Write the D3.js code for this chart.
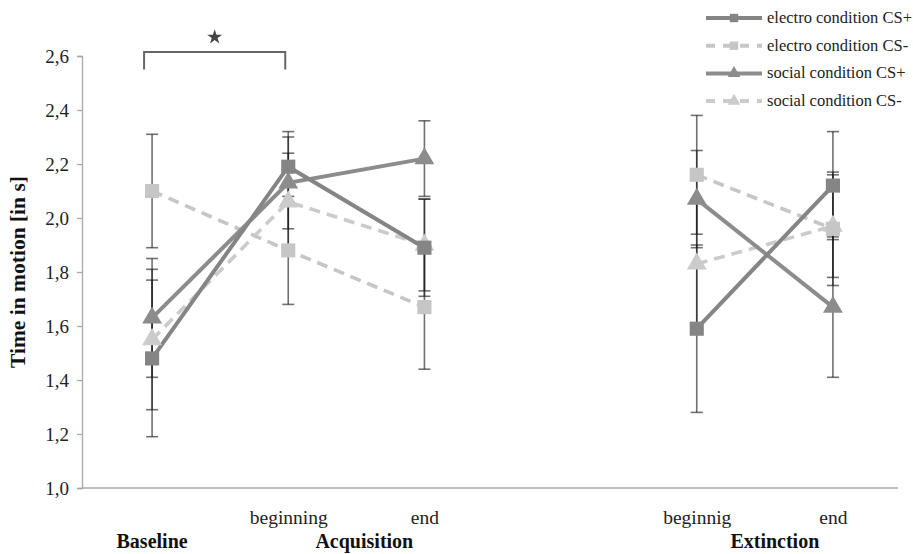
<!DOCTYPE html>
<html>
<head>
<meta charset="utf-8">
<script src="https://cdn.jsdelivr.net/npm/d3@7/dist/d3.min.js"></script>
<style>
  html, body { margin: 0; padding: 0; background: #fff; }
  svg { display: block; }
</style>
</head>
<body>
<svg id="chart" width="913" height="554"></svg>
<script>
// Measurement slots along the x axis; the empty slot separates acquisition from extinction
const slots = ["baseline", "acq-begin", "acq-end", "", "ext-begin", "ext-end"];
const measured = ["baseline", "acq-begin", "acq-end", "ext-begin", "ext-end"];
// Points joined by one line: baseline through acquisition, then extinction
const segments = [[0, 1, 2], [3, 4]];
const tickLabels = ["", "beginning", "end", "", "beginnig", "end"];
const phaseLabels = ["Baseline", "Acquisition", "Extinction"];
const yTicks = [1.0, 1.2, 1.4, 1.6, 1.8, 2.0, 2.2, 2.4, 2.6];

// Mean time in motion (s) and error half-widths per measurement slot
const electroCSplus     = [1.48, 2.19, 1.89, 1.59, 2.12];
const electroCSplusErr  = [0.29, 0.13, 0.18, 0.31, 0.20];
const electroCSminus    = [2.10, 1.88, 1.67, 2.16, 1.96];
const electroCSminusErr = [0.21, 0.20, 0.23, 0.22, 0.21];
const socialCSplus      = [1.63, 2.13, 2.22, 2.07, 1.67];
const socialCSplusErr   = [0.22, 0.17, 0.14, 0.18, 0.26];
const socialCSminus     = [1.55, 2.06, 1.90, 1.83, 1.97];
const socialCSminusErr  = [0.26, 0.18, 0.17, 0.24, 0.19];

const seriesNames = ["electro condition CS+", "electro condition CS-", "social condition CS+", "social condition CS-"];

// Significant comparison: baseline vs. beginning of acquisition
const sigFrom = "baseline", sigTo = "acq-begin", sigLevel = 2.615, sigDrop = 2.55, sigStarLevel = 2.67;

const series = [
  { name: seriesNames[3], values: socialCSminus,  err: socialCSminusErr,  color: "#cbcbcb", dashed: true,  shape: d3.symbolTriangle },
  { name: seriesNames[1], values: electroCSminus, err: electroCSminusErr, color: "#c6c6c6", dashed: true,  shape: d3.symbolSquare },
  { name: seriesNames[2], values: socialCSplus,   err: socialCSplusErr,   color: "#8c8c8c", dashed: false, shape: d3.symbolTriangle },
  { name: seriesNames[0], values: electroCSplus,  err: electroCSplusErr,  color: "#858585", dashed: false, shape: d3.symbolSquare }
];
const legendOrder = [3, 1, 2, 0];

const serif = "Liberation Serif";
const svg = d3.select("#chart");

const x = d3.scalePoint().domain(slots).range([84, 901]).padding(0.5);
const y = d3.scaleLinear().domain([1.0, 2.6]).range([488, 56]);
const axisLeftX = 82, axisRightX = 898;

// y axis
const yAxis = d3.axisLeft(y)
  .tickValues(yTicks)
  .tickSize(5)
  .tickPadding(8)
  .tickFormat(d => d3.format(".1f")(d).replace(".", ","));
const gy = svg.append("g").attr("transform", `translate(${axisLeftX},0)`).call(yAxis);
gy.attr("font-family", null).attr("font-size", null);
gy.select(".domain").attr("stroke", "#a8a8a8").attr("stroke-width", 1.3);
gy.selectAll(".tick line").attr("stroke", "#a8a8a8").attr("stroke-width", 1.3);
gy.selectAll(".tick text").attr("fill", "#222")
  .attr("font-family", serif).attr("font-size", 19);

// x axis line and slot labels
svg.append("line")
  .attr("x1", axisLeftX).attr("x2", axisRightX)
  .attr("y1", y(1.0)).attr("y2", y(1.0))
  .attr("stroke", "#a8a8a8").attr("stroke-width", 1.3);

const xAxis = d3.axisBottom(x).tickSize(0).tickPadding(22).tickFormat((d, i) => tickLabels[i]);
const gx = svg.append("g").attr("transform", `translate(0,${y(1.0)})`).call(xAxis);
gx.attr("font-family", null).attr("font-size", null);
gx.select(".domain").remove();
gx.selectAll(".tick text").attr("fill", "#222")
  .attr("font-family", serif).attr("font-size", 19.5);

// Phase labels
const phaseX = [
  x("baseline"),
  (x("acq-begin") + x("acq-end")) / 2 + 8,
  (x("ext-begin") + x("ext-end")) / 2 + 10
];
svg.selectAll("text.phase").data(phaseLabels).join("text")
  .attr("class", "phase")
  .attr("x", (d, i) => phaseX[i]).attr("y", 548)
  .attr("text-anchor", "middle")
  .attr("font-family", serif)
  .attr("font-weight", "bold").attr("font-size", 20).attr("fill", "#111")
  .text(d => d);

// y axis title
svg.append("text")
  .attr("transform", `translate(25,${y(1.8)}) rotate(-90)`)
  .attr("text-anchor", "middle")
  .attr("font-family", serif)
  .attr("font-weight", "bold").attr("font-size", 21.5).attr("fill", "#111")
  .text("Time in motion [in s]");

// Lines, one per phase segment
const plot = svg.append("g");
series.forEach(s => {
  segments.forEach(seg => {
    const line = d3.line().x(i => x(measured[i])).y(i => y(s.values[i]));
    plot.append("path")
      .datum(seg)
      .attr("d", line)
      .attr("fill", "none")
      .attr("stroke", s.color)
      .attr("stroke-width", s.dashed ? 3.6 : 4)
      .attr("stroke-dasharray", s.dashed ? "11,7" : null);
  });
});

// Error bars
const bars = svg.append("g").attr("stroke", "#1a1a1a").attr("stroke-opacity", 0.62).attr("stroke-width", 1.6);
series.forEach(s => {
  s.values.forEach((v, i) => {
    const cx = x(measured[i]);
    const lo = y(v - s.err[i]), hi = y(v + s.err[i]);
    bars.append("line").attr("x1", cx).attr("x2", cx).attr("y1", lo).attr("y2", hi);
    bars.append("line").attr("x1", cx - 6).attr("x2", cx + 6).attr("y1", lo).attr("y2", lo);
    bars.append("line").attr("x1", cx - 6).attr("x2", cx + 6).attr("y1", hi).attr("y2", hi);
  });
});

// Markers
series.forEach(s => {
  svg.append("g").selectAll("path").data(s.values).join("path")
    .attr("transform", (d, i) => `translate(${x(measured[i])},${y(d)})`)
    .attr("d", d3.symbol().type(s.shape).size(s.shape === d3.symbolSquare ? 200 : 170))
    .attr("fill", s.color);
});

// Significance bracket and star
const bx1 = x(sigFrom) - 8, bx2 = x(sigTo) - 3;
svg.append("path")
  .attr("d", `M${bx1},${y(sigDrop)} L${bx1},${y(sigLevel)} L${bx2},${y(sigLevel)} L${bx2},${y(sigDrop)}`)
  .attr("fill", "none").attr("stroke", "#666").attr("stroke-width", 2);
svg.append("path")
  .attr("transform", `translate(${(bx1 + bx2) / 2},${y(sigStarLevel)})`)
  .attr("d", d3.symbol().type(d3.symbolStar).size(70))
  .attr("fill", "#444");

// Legend
const legend = svg.append("g");
legendOrder.forEach((si, row) => {
  const s = series[si];
  const ly = 18 + row * 27.7;
  const g = legend.append("g").attr("transform", `translate(0,${ly})`);
  g.append("line").attr("x1", 706).attr("x2", 762).attr("y1", 0).attr("y2", 0)
    .attr("stroke", s.color).attr("stroke-width", 4)
    .attr("stroke-dasharray", s.dashed ? "9,8" : null);
  g.append("path").attr("transform", "translate(734,0)")
    .attr("d", d3.symbol().type(s.shape).size(70)).attr("fill", s.color);
  g.append("text").attr("x", 767).attr("y", 5)
    .attr("font-family", serif)
    .attr("font-size", 16.5).attr("fill", "#222").text(s.name);
});
</script>
</body>
</html>
